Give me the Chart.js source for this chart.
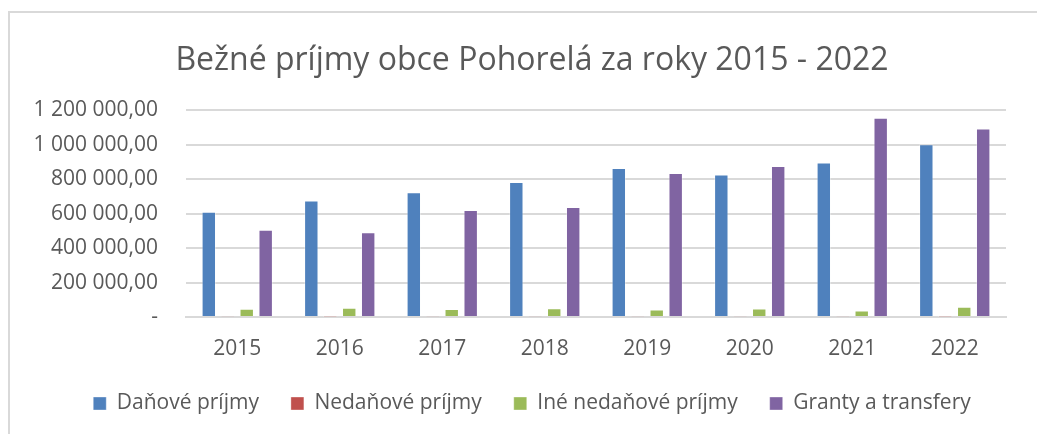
<!DOCTYPE html>
<html>
<head>
<meta charset="utf-8">
<script src="https://cdn.jsdelivr.net/npm/chart.js@4/dist/chart.umd.min.js"></script>
<style>
  html, body { margin: 0; padding: 0; background: #fff; }
  #frame { position: absolute; left: 8px; top: 11px; width: 1100px; height: 500px;
           border-left: 2px solid #d9d9d9; border-top: 2px solid #d9d9d9; }
  #wrap { position: absolute; left: 0; top: 0; width: 1037px; height: 434px; }
</style>
</head>
<body>
<div id="frame"></div>
<div id="wrap"><canvas id="chart" width="1037" height="434"></canvas></div>
<script>
// Bežné príjmy obce Pohorelá 2015 - 2022 (EUR)
const years = ["2015", "2016", "2017", "2018", "2019", "2020", "2021", "2022"];

const danove    = [612000, 676000, 725000, 784000, 865000, 828000, 898000, 1003000];
const nedanove  = [4000, 1500, 4000, 4000, 4000, 4000, 4000, 1500];
const ineNedan  = [48000, 54000, 46000, 51000, 44000, 50000, 38000, 60000];
const granty    = [507000, 492000, 622000, 639000, 836000, 877000, 1157000, 1095000];

const yTicks = [0, 200000, 400000, 600000, 800000, 1000000, 1200000];
const yTickLabels = ["-", "200 000,00", "400 000,00", "600 000,00", "800 000,00", "1 000 000,00", "1 200 000,00"];

const textColor = "#595959";
const gridColor = "#d9d9d9";
const fontFamily = "'Open Sans', 'Noto Sans', sans-serif";

function bar(label, data, color) {
  return {
    label: label,
    data: data,
    backgroundColor: color,
    borderColor: "rgba(255,255,255,0.35)",
    borderWidth: 1,
    categoryPercentage: 0.74,
    barPercentage: 0.76,
  };
}

// title and legend sit a bit right of centre in the original
const shiftBlocks = {
  id: "shiftBlocks",
  afterLayout(chart) {
    [chart.titleBlock, chart.legend].forEach((b) => {
      if (!b) return;
      b.left += 19;
      b.right += 19;
    });
  },
};

new Chart(document.getElementById("chart"), {
  type: "bar",
  data: {
    labels: years,
    datasets: [
      bar("Daňové príjmy", danove, "#4F81BD"),
      bar("Nedaňové príjmy", nedanove, "#C0504D"),
      bar("Iné nedaňové príjmy", ineNedan, "#9BBB59"),
      bar("Granty a transfery", granty, "#8064A2"),
    ],
  },
  plugins: [shiftBlocks],
  options: {
    responsive: false,
    animation: false,
    layout: { padding: { left: 20, right: 31, top: 0, bottom: 10 } },
    plugins: {
      tooltip: { enabled: false },
      title: {
        display: true,
        text: "Bežné príjmy obce Pohorelá za roky 2015 - 2022",
        color: textColor,
        font: { family: fontFamily, size: 32, weight: "normal" },
        padding: { top: 42, bottom: 30 },
      },
      legend: {
        position: "bottom",
        labels: {
          color: textColor,
          font: { family: fontFamily, size: 21 },
          boxWidth: 13,
          boxHeight: 13,
          padding: 32,
        },
      },
    },
    scales: {
      x: {
        grid: { display: false, drawTicks: false },
        border: { color: gridColor, width: 2 },
        ticks: { color: textColor, font: { family: fontFamily, size: 21 }, padding: 19 },
        afterFit: (s) => { s.height = 44; },
      },
      y: {
        min: 0,
        max: 1200000,
        afterBuildTicks: (s) => { s.ticks = yTicks.map((v) => ({ value: v })); },
        grid: { color: gridColor, lineWidth: 2, drawTicks: false },
        border: { display: false },
        ticks: {
          color: textColor,
          font: { family: fontFamily, size: 21 },
          padding: 28,
          callback: (v) => yTickLabels[yTicks.indexOf(v)],
        },
        afterFit: (s) => { s.width = 166; },
      },
    },
  },
});
</script>
</body>
</html>
